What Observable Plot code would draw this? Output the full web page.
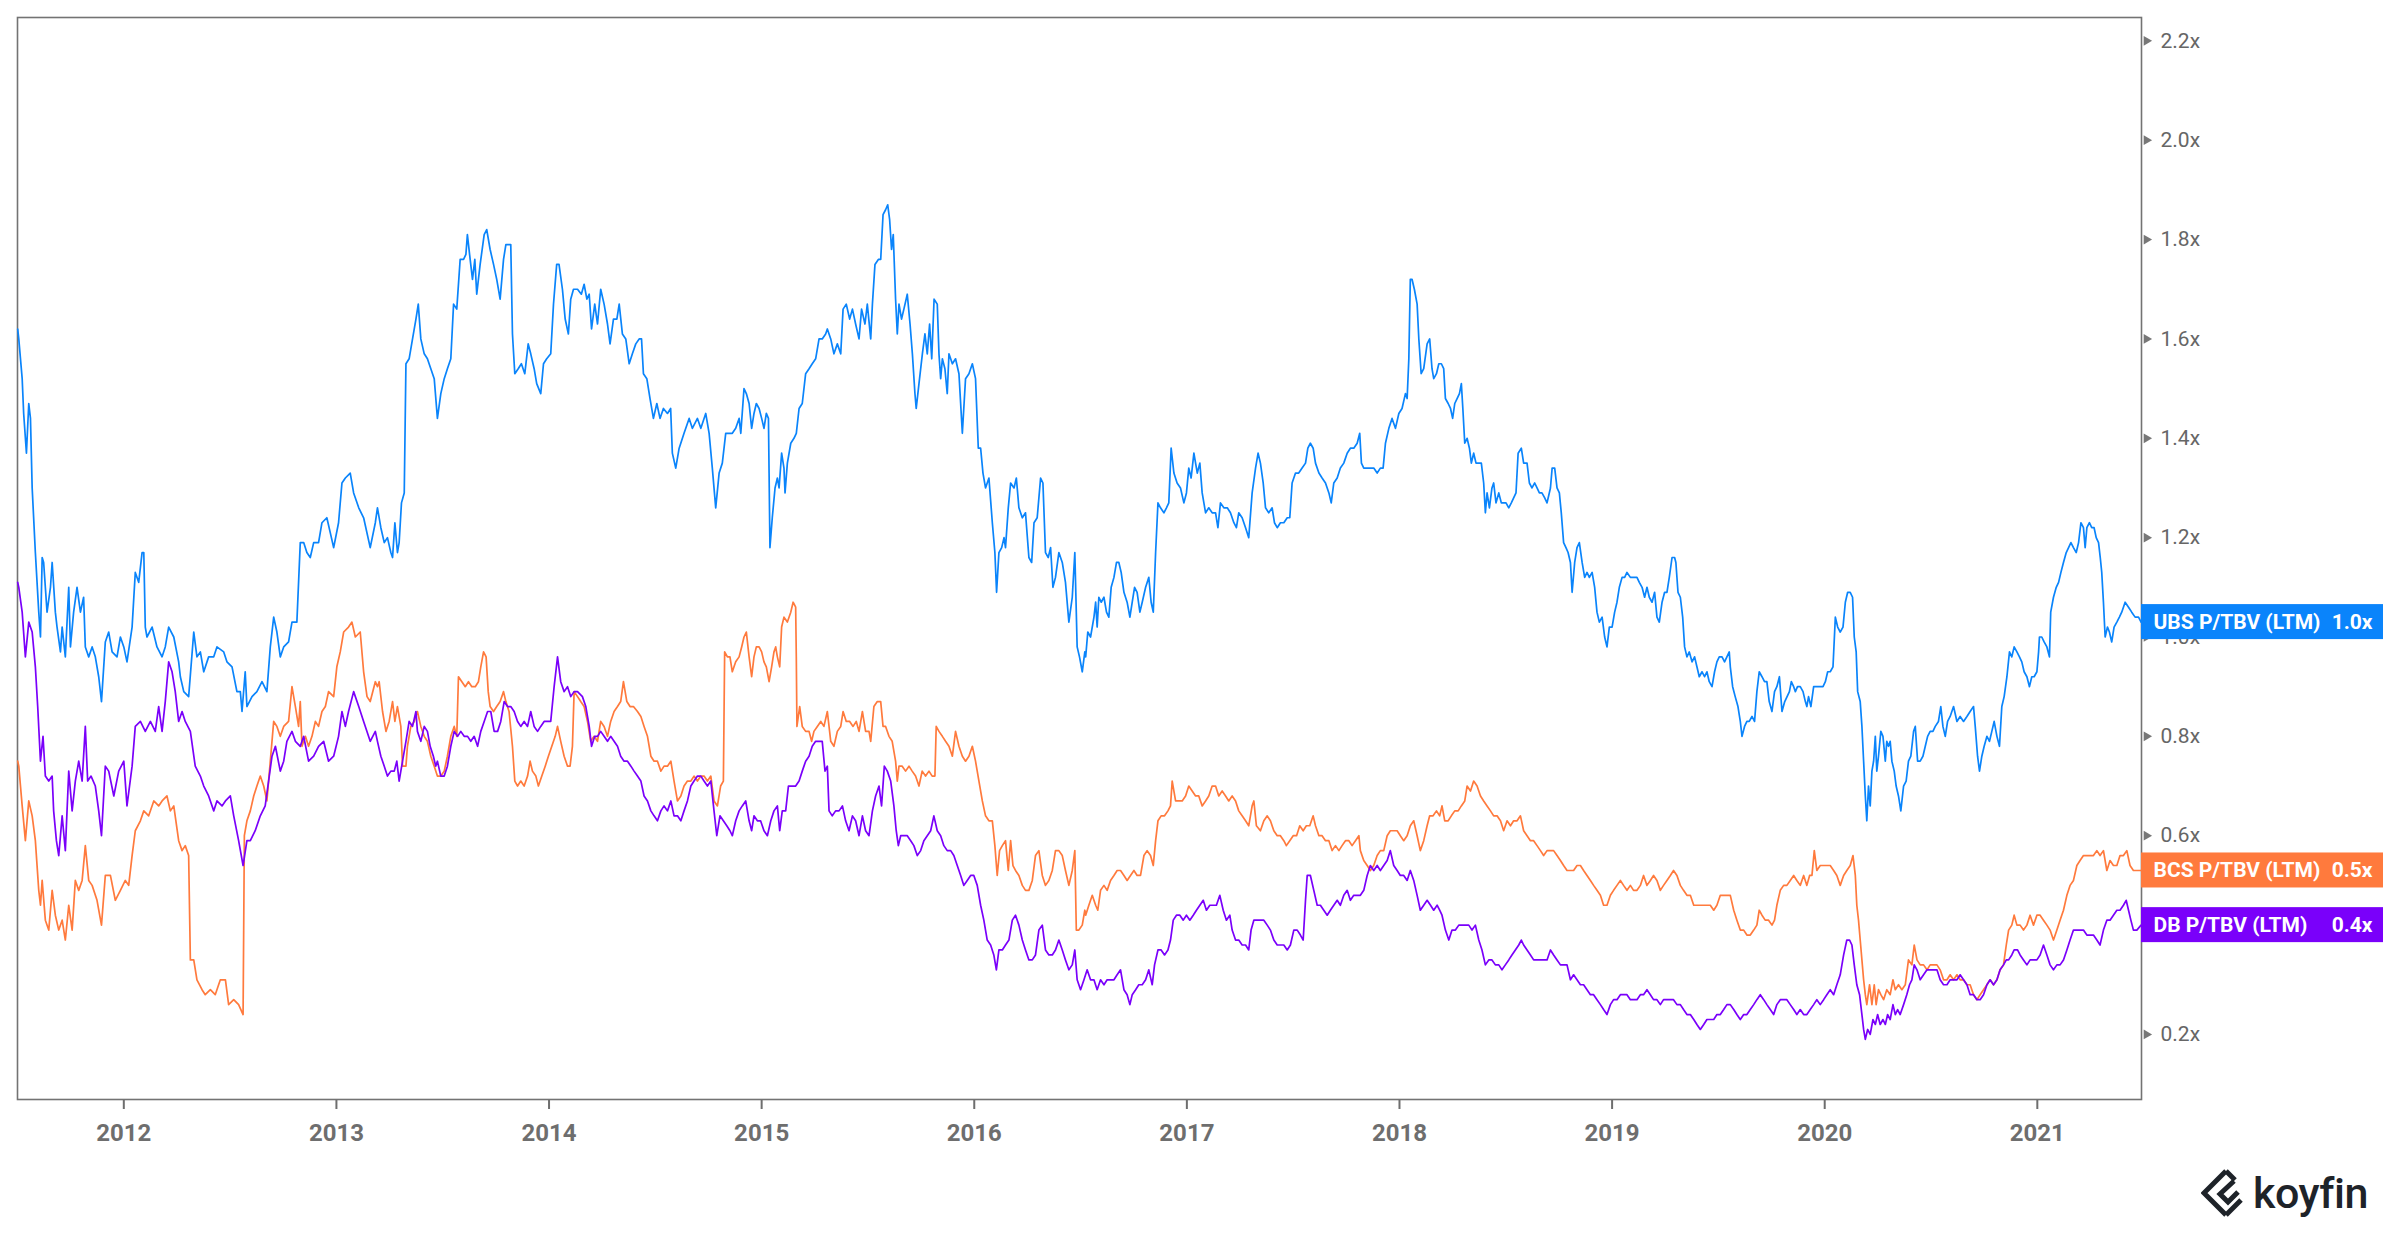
<!DOCTYPE html>
<html>
<head>
<meta charset="utf-8">
<script src="https://cdn.jsdelivr.net/npm/d3@7"></script>
<script src="https://cdn.jsdelivr.net/npm/@observablehq/plot@0.6"></script>
<style>
  html, body { margin: 0; padding: 0; background: #ffffff; }
  #wrap { position: relative; width: 2400px; height: 1240px; background: #ffffff; overflow: hidden; }
  #logo { position: absolute; left: 2201px; top: 1168px; display: flex; align-items: center; gap: 8px; }
  #logo span { font-family: Roboto, "Noto Sans", sans-serif; font-weight: 500; font-size: 43px; color: #1e2329; letter-spacing: -0.5px; }
</style>
</head>
<body>
<div id="wrap"></div>
<script>
// ---- data (decimal year, P/TBV multiple) ----
const years = [2012, 2013, 2014, 2015, 2016, 2017, 2018, 2019, 2020, 2021];
const yTicks = [0.2, 0.4, 0.6, 0.8, 1.0, 1.2, 1.4, 1.6, 1.8, 2.0, 2.2];
const seriesNames = ["UBS P/TBV (LTM)", "BCS P/TBV (LTM)", "DB P/TBV (LTM)"];
const seriesColors = ["#0a84fb", "#ff7a3d", "#7a00fa"];

const ubs = [
[2011.501,1.62],[2011.506,1.60],[2011.522,1.52],[2011.529,1.45],[2011.542,1.37],[2011.553,1.47],[2011.561,1.44],[2011.569,1.30],[2011.584,1.17],[2011.600,1.05],[2011.608,1.00],[2011.616,1.16],[2011.623,1.15],[2011.639,1.05],[2011.655,1.10],[2011.663,1.15],[2011.678,1.05],[2011.686,1.02],[2011.702,0.97],[2011.710,1.02],[2011.725,0.96],[2011.741,1.10],[2011.749,0.98],[2011.764,1.05],[2011.780,1.10],[2011.796,1.05],[2011.811,1.08],[2011.819,0.98],[2011.835,0.96],[2011.851,0.98],[2011.866,0.96],[2011.882,0.92],[2011.895,0.87],[2011.913,0.99],[2011.929,1.01],[2011.945,0.97],[2011.968,0.96],[2011.984,1.00],[2012.000,0.98],[2012.015,0.95],[2012.039,1.02],[2012.054,1.13],[2012.070,1.11],[2012.086,1.17],[2012.094,1.17],[2012.101,1.02],[2012.109,1.00],[2012.133,1.02],[2012.156,0.98],[2012.180,0.96],[2012.195,0.98],[2012.211,1.02],[2012.235,1.00],[2012.258,0.95],[2012.266,0.92],[2012.282,0.89],[2012.305,0.88],[2012.329,1.01],[2012.344,0.96],[2012.360,0.97],[2012.376,0.93],[2012.399,0.96],[2012.423,0.96],[2012.438,0.98],[2012.470,0.97],[2012.485,0.95],[2012.509,0.94],[2012.532,0.89],[2012.548,0.89],[2012.556,0.85],[2012.571,0.93],[2012.579,0.86],[2012.603,0.88],[2012.626,0.89],[2012.650,0.91],[2012.673,0.89],[2012.689,0.98],[2012.705,1.04],[2012.720,1.01],[2012.736,0.96],[2012.752,0.98],[2012.775,0.99],[2012.791,1.03],[2012.814,1.03],[2012.830,1.19],[2012.846,1.19],[2012.861,1.17],[2012.877,1.16],[2012.893,1.19],[2012.916,1.19],[2012.932,1.23],[2012.955,1.24],[2012.971,1.21],[2012.987,1.18],[2013.010,1.23],[2013.026,1.31],[2013.042,1.32],[2013.065,1.33],[2013.081,1.29],[2013.105,1.26],[2013.128,1.24],[2013.159,1.18],[2013.183,1.23],
[2013.193,1.26],[2013.209,1.22],[2013.225,1.19],[2013.240,1.20],[2013.256,1.17],[2013.264,1.16],[2013.275,1.23],[2013.287,1.17],[2013.295,1.19],[2013.306,1.27],[2013.319,1.29],[2013.327,1.55],[2013.342,1.56],[2013.358,1.60],[2013.374,1.64],[2013.385,1.67],[2013.397,1.60],[2013.413,1.57],[2013.428,1.56],[2013.444,1.54],[2013.460,1.52],[2013.475,1.44],[2013.491,1.49],[2013.507,1.52],[2013.522,1.54],[2013.538,1.56],[2013.551,1.67],[2013.566,1.66],[2013.582,1.76],[2013.598,1.76],[2013.609,1.77],[2013.616,1.81],[2013.629,1.76],[2013.640,1.72],[2013.651,1.76],[2013.660,1.69],[2013.676,1.75],[2013.695,1.81],[2013.707,1.82],[2013.723,1.78],[2013.739,1.75],[2013.754,1.72],[2013.770,1.68],[2013.786,1.76],[2013.797,1.79],[2013.808,1.79],[2013.820,1.79],[2013.828,1.61],[2013.839,1.53],[2013.855,1.54],[2013.870,1.55],[2013.886,1.53],[2013.902,1.59],[2013.914,1.57],[2013.930,1.54],[2013.942,1.51],[2013.961,1.49],[2013.974,1.55],[2013.989,1.56],[2014.008,1.57],[2014.021,1.67],[2014.036,1.75],[2014.047,1.75],[2014.063,1.70],[2014.076,1.64],[2014.091,1.61],[2014.102,1.68],[2014.115,1.70],[2014.134,1.70],[2014.152,1.69],[2014.165,1.71],[2014.178,1.68],[2014.189,1.69],[2014.200,1.62],[2014.215,1.67],[2014.228,1.63],[2014.243,1.70],[2014.259,1.67],[2014.275,1.63],[2014.287,1.59],[2014.303,1.64],[2014.319,1.64],[2014.330,1.67],[2014.345,1.61],[2014.361,1.60],[2014.377,1.55],[2014.392,1.57],[2014.408,1.59],[2014.424,1.60],[2014.435,1.60],[2014.444,1.53],[2014.460,1.52],[2014.475,1.48],[2014.491,1.44],[2014.507,1.47],[2014.522,1.44],[2014.538,1.46],[2014.557,1.45],[2014.572,1.46],[2014.580,1.37],[2014.596,1.34],[2014.612,1.38],[2014.635,1.41],[2014.659,1.44],[2014.674,1.42],[2014.698,1.44],[2014.714,1.42],[2014.737,1.45],[2014.753,1.41],[2014.768,1.34],[2014.784,1.26],[2014.800,1.33],[2014.815,1.35],[2014.831,1.41],[2014.851,1.41],
[2014.862,1.41],[2014.878,1.42],[2014.894,1.44],[2014.902,1.41],[2014.917,1.50],[2014.928,1.49],[2014.941,1.47],[2014.953,1.42],[2014.964,1.45],[2014.975,1.47],[2014.988,1.46],[2015.000,1.44],[2015.011,1.42],[2015.022,1.45],[2015.032,1.44],[2015.035,1.33],[2015.039,1.18],[2015.050,1.24],[2015.063,1.30],[2015.074,1.32],[2015.082,1.30],[2015.094,1.37],[2015.105,1.34],[2015.110,1.29],[2015.121,1.35],[2015.137,1.39],[2015.152,1.40],[2015.163,1.41],[2015.176,1.46],[2015.191,1.47],[2015.207,1.53],[2015.223,1.54],[2015.238,1.55],[2015.254,1.56],[2015.270,1.60],[2015.285,1.60],[2015.301,1.61],[2015.309,1.62],[2015.325,1.60],[2015.340,1.57],[2015.356,1.59],[2015.372,1.57],[2015.383,1.66],[2015.398,1.67],[2015.414,1.64],[2015.427,1.66],[2015.442,1.63],[2015.458,1.60],[2015.470,1.66],[2015.486,1.63],[2015.497,1.67],[2015.513,1.60],[2015.521,1.67],[2015.533,1.75],[2015.549,1.76],[2015.560,1.76],[2015.571,1.85],[2015.583,1.86],[2015.593,1.87],[2015.602,1.84],[2015.611,1.78],[2015.619,1.81],[2015.630,1.68],[2015.638,1.61],[2015.646,1.67],[2015.658,1.64],[2015.669,1.66],[2015.685,1.69],[2015.698,1.63],[2015.709,1.57],[2015.721,1.49],[2015.727,1.46],[2015.740,1.51],[2015.756,1.57],[2015.768,1.61],[2015.779,1.57],[2015.790,1.63],[2015.800,1.56],[2015.811,1.68],[2015.826,1.67],[2015.834,1.57],[2015.842,1.52],[2015.850,1.56],[2015.862,1.54],[2015.873,1.49],[2015.881,1.57],[2015.897,1.55],[2015.912,1.56],[2015.928,1.53],[2015.944,1.41],[2015.959,1.52],[2015.975,1.53],[2015.991,1.55],[2016.006,1.52],[2016.019,1.38],[2016.030,1.38],[2016.041,1.33],[2016.053,1.30],[2016.069,1.32],[2016.085,1.23],[2016.097,1.17],[2016.105,1.09],[2016.116,1.17],[2016.129,1.18],[2016.140,1.20],[2016.147,1.18],[2016.160,1.26],[2016.171,1.31],[2016.187,1.30],[2016.198,1.32],[2016.210,1.26],[2016.226,1.24],[2016.241,1.25],[2016.257,1.16],[2016.270,1.15],[2016.281,1.23],[2016.296,1.24],[2016.312,1.32],[2016.323,1.31],[2016.335,1.17],[2016.348,1.16],[2016.359,1.18],[2016.370,1.10],[2016.382,1.12],[2016.398,1.17],[2016.414,1.15],[2016.429,1.11],[2016.445,1.03],[2016.461,1.08],[2016.473,1.17],[2016.484,0.98],[2016.495,0.96],[2016.508,0.93],[2016.520,0.97],
[2016.524,0.96],[2016.534,1.01],[2016.547,1.00],[2016.563,1.04],[2016.571,1.07],[2016.578,1.02],[2016.586,1.08],[2016.597,1.07],[2016.610,1.08],[2016.622,1.05],[2016.633,1.04],[2016.644,1.10],[2016.657,1.12],[2016.669,1.15],[2016.680,1.15],[2016.691,1.13],[2016.704,1.09],[2016.719,1.07],[2016.732,1.04],[2016.743,1.07],[2016.754,1.10],[2016.766,1.09],[2016.779,1.05],[2016.790,1.07],[2016.806,1.10],[2016.821,1.12],[2016.832,1.07],[2016.842,1.05],[2016.853,1.17],[2016.864,1.27],[2016.876,1.26],[2016.892,1.25],[2016.904,1.26],[2016.915,1.27],[2016.926,1.38],[2016.939,1.33],[2016.954,1.31],[2016.970,1.30],[2016.986,1.27],[2016.998,1.29],[2017.009,1.34],[2017.020,1.32],[2017.033,1.37],[2017.049,1.33],[2017.061,1.35],[2017.072,1.29],[2017.088,1.25],[2017.103,1.26],[2017.119,1.25],[2017.135,1.25],[2017.146,1.22],[2017.158,1.27],[2017.174,1.26],[2017.190,1.26],[2017.205,1.25],[2017.221,1.23],[2017.233,1.22],[2017.244,1.25],[2017.260,1.24],[2017.276,1.22],[2017.291,1.20],[2017.307,1.29],[2017.323,1.34],[2017.335,1.37],[2017.346,1.35],[2017.359,1.31],[2017.370,1.26],[2017.385,1.25],[2017.401,1.26],[2017.412,1.23],[2017.425,1.22],[2017.440,1.23],[2017.456,1.23],[2017.472,1.24],[2017.484,1.24],[2017.495,1.31],[2017.511,1.33],[2017.526,1.33],[2017.542,1.34],[2017.558,1.35],[2017.569,1.38],[2017.581,1.39],[2017.594,1.38],[2017.605,1.35],[2017.621,1.33],[2017.636,1.32],[2017.652,1.31],[2017.668,1.29],[2017.679,1.27],[2017.691,1.31],[2017.707,1.32],[2017.722,1.34],[2017.738,1.35],[2017.754,1.37],[2017.769,1.38],[2017.785,1.38],[2017.801,1.39],[2017.813,1.41],[2017.821,1.35],[2017.832,1.34],[2017.848,1.34],[2017.863,1.34],[2017.879,1.34],[2017.895,1.33],[2017.910,1.34],[2017.923,1.34],[2017.934,1.39],[2017.950,1.42],[2017.965,1.44],[2017.981,1.42],[2017.997,1.45],[2018.012,1.46],[2018.028,1.49],[2018.036,1.48],[2018.044,1.56],[2018.051,1.72],[2018.059,1.72],[2018.070,1.70],[2018.083,1.67],[2018.091,1.60],[2018.102,1.53],[2018.114,1.54],[2018.130,1.59],[2018.142,1.60],[2018.153,1.54],[2018.161,1.52],[2018.174,1.53],[2018.185,1.55],
[2018.197,1.55],[2018.208,1.54],[2018.216,1.48],[2018.229,1.47],[2018.240,1.46],[2018.250,1.44],[2018.260,1.47],[2018.271,1.48],[2018.282,1.49],[2018.291,1.51],[2018.298,1.46],[2018.307,1.39],[2018.318,1.40],[2018.329,1.38],[2018.338,1.35],[2018.349,1.37],[2018.360,1.35],[2018.373,1.35],[2018.385,1.35],[2018.396,1.31],[2018.404,1.25],[2018.412,1.29],[2018.423,1.26],[2018.435,1.30],[2018.443,1.31],[2018.454,1.27],[2018.467,1.29],[2018.479,1.27],[2018.490,1.27],[2018.501,1.27],[2018.514,1.26],[2018.526,1.27],[2018.537,1.28],[2018.548,1.29],[2018.558,1.37],[2018.573,1.38],[2018.584,1.35],[2018.600,1.35],[2018.611,1.31],[2018.623,1.30],[2018.636,1.31],[2018.647,1.30],[2018.658,1.29],[2018.670,1.29],[2018.683,1.28],[2018.694,1.27],[2018.710,1.30],[2018.718,1.34],[2018.730,1.34],[2018.741,1.30],[2018.752,1.29],[2018.761,1.25],[2018.772,1.19],[2018.783,1.18],[2018.793,1.17],[2018.804,1.15],[2018.812,1.09],[2018.824,1.15],[2018.835,1.18],[2018.846,1.19],[2018.859,1.15],[2018.871,1.12],[2018.882,1.13],[2018.893,1.12],[2018.906,1.13],[2018.918,1.10],[2018.929,1.05],[2018.940,1.03],[2018.953,1.04],[2018.965,1.00],[2018.976,0.98],[2018.987,1.02],[2019.000,1.02],[2019.012,1.05],[2019.023,1.07],[2019.034,1.10],[2019.047,1.12],[2019.059,1.12],[2019.070,1.13],[2019.086,1.12],[2019.101,1.12],[2019.117,1.12],[2019.128,1.11],[2019.141,1.10],[2019.153,1.08],[2019.164,1.10],[2019.175,1.08],[2019.188,1.07],[2019.200,1.09],[2019.211,1.04],[2019.222,1.03],[2019.235,1.07],[2019.247,1.09],[2019.258,1.09],[2019.269,1.12],[2019.282,1.16],[2019.294,1.16],[2019.300,1.15],[2019.310,1.09],[2019.321,1.08],[2019.332,1.04],[2019.341,0.98],[2019.352,0.96],[2019.363,0.97],[2019.376,0.95],[2019.388,0.96],[2019.399,0.94],[2019.410,0.92],[2019.423,0.93],[2019.435,0.92],[2019.446,0.93],[2019.457,0.91],[2019.470,0.90],[2019.482,0.93],[2019.493,0.95],[2019.504,0.96],[2019.517,0.96],[2019.529,0.95],[2019.540,0.96],[2019.551,0.97],[2019.556,0.94],[2019.567,0.90],[2019.579,0.88],[2019.592,0.86],[2019.603,0.83],[2019.611,0.80],[2019.623,0.82],[2019.634,0.83],[2019.645,0.83],[2019.658,0.84],[2019.670,0.83],[2019.681,0.89],[2019.692,0.93],[2019.705,0.92],[2019.717,0.91],[2019.728,0.91],[2019.739,0.87],[2019.752,0.85],[2019.764,0.89],[2019.775,0.90],[2019.787,0.92],[2019.799,0.85],[2019.812,0.87],[2019.823,0.88],[2019.834,0.89],[2019.843,0.91],[2019.854,0.90],
[2019.862,0.89],[2019.872,0.90],[2019.885,0.90],[2019.898,0.89],[2019.909,0.87],[2019.916,0.86],[2019.924,0.88],[2019.935,0.86],[2019.948,0.90],[2019.960,0.90],[2019.976,0.90],[2019.992,0.90],[2020.003,0.91],[2020.014,0.93],[2020.026,0.93],[2020.039,0.94],[2020.050,1.04],[2020.061,1.02],[2020.073,1.01],[2020.086,1.02],[2020.097,1.07],[2020.108,1.09],[2020.120,1.09],[2020.131,1.08],[2020.139,1.00],[2020.148,0.97],[2020.155,0.89],[2020.167,0.87],[2020.175,0.82],[2020.183,0.75],[2020.191,0.68],[2020.198,0.63],[2020.206,0.70],[2020.214,0.66],[2020.222,0.73],[2020.230,0.75],[2020.238,0.80],[2020.245,0.73],[2020.253,0.76],[2020.264,0.81],[2020.274,0.80],[2020.285,0.75],[2020.292,0.79],[2020.300,0.78],[2020.308,0.79],[2020.316,0.75],[2020.327,0.73],[2020.336,0.70],[2020.347,0.68],[2020.358,0.65],[2020.371,0.70],[2020.383,0.71],[2020.394,0.75],[2020.405,0.76],[2020.418,0.81],[2020.426,0.82],[2020.437,0.75],[2020.449,0.75],[2020.462,0.76],[2020.473,0.78],[2020.484,0.80],[2020.496,0.81],[2020.509,0.81],[2020.520,0.82],[2020.535,0.83],[2020.546,0.86],[2020.556,0.82],[2020.567,0.80],[2020.578,0.83],[2020.590,0.84],[2020.606,0.86],[2020.622,0.83],[2020.637,0.84],[2020.653,0.83],[2020.669,0.84],[2020.684,0.85],[2020.700,0.86],[2020.708,0.82],[2020.719,0.76],[2020.728,0.73],[2020.739,0.76],[2020.750,0.78],[2020.763,0.80],[2020.775,0.79],[2020.786,0.81],[2020.797,0.83],[2020.810,0.80],[2020.822,0.78],[2020.833,0.86],[2020.844,0.88],[2020.857,0.92],[2020.869,0.97],[2020.880,0.96],[2020.891,0.98],[2020.904,0.97],[2020.916,0.96],[2020.927,0.95],[2020.938,0.93],[2020.951,0.92],[2020.963,0.90],[2020.974,0.92],[2020.985,0.92],[2020.998,0.93],[2021.006,0.97],[2021.010,1.00],[2021.021,1.00],[2021.032,0.99],[2021.045,0.98],[2021.057,0.96],[2021.063,1.05],[2021.076,1.08],[2021.089,1.10],[2021.100,1.11],[2021.111,1.13],[2021.123,1.15],[2021.136,1.17],[2021.147,1.18],[2021.158,1.19],[2021.170,1.18],[2021.183,1.17],[2021.194,1.19],[2021.205,1.23],[2021.217,1.22],[2021.225,1.18],[2021.233,1.22],[2021.245,1.23],[2021.256,1.22],[2021.267,1.22],[2021.277,1.20],[2021.288,1.19],[2021.296,1.16],[2021.303,1.13],[2021.311,1.07],[2021.319,1.00],[2021.330,1.02],[2021.339,1.01],[2021.350,0.99],[2021.361,1.02],[2021.374,1.03],[2021.386,1.04],[2021.397,1.05],[2021.413,1.07],[2021.429,1.06],[2021.444,1.05],[2021.460,1.04],[2021.476,1.04],[2021.488,1.03]
];

const bcs = [
[2011.501,0.75],[2011.506,0.74],[2011.522,0.66],[2011.537,0.59],[2011.553,0.67],[2011.569,0.64],[2011.584,0.59],[2011.600,0.49],[2011.608,0.46],[2011.616,0.51],[2011.631,0.43],[2011.647,0.41],[2011.663,0.49],[2011.678,0.44],[2011.694,0.41],[2011.710,0.43],[2011.725,0.39],[2011.741,0.46],[2011.757,0.41],[2011.772,0.51],[2011.788,0.49],[2011.804,0.51],[2011.819,0.58],[2011.835,0.51],[2011.851,0.50],[2011.874,0.47],[2011.895,0.42],[2011.913,0.52],[2011.937,0.52],[2011.960,0.47],[2011.984,0.49],[2012.007,0.51],[2012.023,0.50],[2012.039,0.56],[2012.054,0.61],[2012.078,0.63],[2012.094,0.65],[2012.117,0.64],[2012.141,0.67],[2012.164,0.66],[2012.180,0.67],[2012.203,0.68],[2012.219,0.65],[2012.235,0.66],[2012.258,0.59],[2012.274,0.57],[2012.289,0.58],[2012.305,0.56],[2012.313,0.35],[2012.329,0.35],[2012.344,0.31],[2012.368,0.29],[2012.383,0.28],[2012.407,0.29],[2012.430,0.28],[2012.454,0.31],[2012.478,0.31],[2012.493,0.26],[2012.517,0.27],[2012.540,0.26],[2012.561,0.24],[2012.567,0.60],[2012.579,0.63],[2012.595,0.65],[2012.611,0.68],[2012.626,0.70],[2012.642,0.72],[2012.658,0.70],[2012.673,0.67],[2012.689,0.75],[2012.705,0.83],[2012.720,0.82],[2012.736,0.80],[2012.752,0.82],[2012.775,0.83],[2012.791,0.90],[2012.807,0.86],[2012.822,0.82],[2012.830,0.87],[2012.838,0.78],[2012.854,0.80],[2012.869,0.78],[2012.885,0.80],[2012.901,0.83],[2012.916,0.82],[2012.932,0.85],[2012.948,0.86],[2012.963,0.89],[2012.987,0.88],[2013.002,0.94],[2013.018,0.97],[2013.034,1.01],[2013.057,1.02],[2013.073,1.03],[2013.089,1.00],[2013.112,1.01],[2013.128,0.93],[2013.144,0.88],[2013.159,0.87],[2013.183,0.91],
[2013.193,0.90],[2013.201,0.91],[2013.217,0.85],[2013.233,0.81],[2013.248,0.83],[2013.264,0.87],[2013.275,0.83],[2013.287,0.86],[2013.303,0.82],[2013.311,0.74],[2013.327,0.74],[2013.334,0.78],[2013.350,0.82],[2013.366,0.83],[2013.381,0.85],[2013.397,0.82],[2013.413,0.80],[2013.428,0.79],[2013.444,0.76],[2013.460,0.74],[2013.475,0.72],[2013.491,0.72],[2013.507,0.73],[2013.522,0.76],[2013.538,0.80],[2013.554,0.82],[2013.566,0.80],[2013.574,0.92],[2013.590,0.91],[2013.606,0.90],[2013.621,0.91],[2013.637,0.90],[2013.653,0.90],[2013.668,0.91],[2013.679,0.94],[2013.692,0.97],[2013.704,0.96],[2013.714,0.89],[2013.723,0.86],[2013.739,0.85],[2013.754,0.86],[2013.770,0.87],[2013.786,0.89],[2013.797,0.87],[2013.812,0.85],[2013.828,0.78],[2013.839,0.71],[2013.852,0.70],[2013.867,0.71],[2013.883,0.70],[2013.899,0.72],[2013.911,0.75],[2013.922,0.73],[2013.938,0.72],[2013.950,0.70],[2013.966,0.72],[2013.982,0.74],[2013.997,0.76],[2014.013,0.78],[2014.029,0.80],[2014.040,0.82],[2014.055,0.79],[2014.071,0.76],[2014.087,0.74],[2014.099,0.74],[2014.110,0.78],[2014.118,0.89],[2014.134,0.88],[2014.149,0.87],[2014.165,0.86],[2014.181,0.83],[2014.196,0.79],[2014.212,0.80],[2014.228,0.79],[2014.243,0.83],[2014.259,0.82],[2014.275,0.80],[2014.290,0.83],[2014.306,0.85],[2014.322,0.86],[2014.337,0.87],[2014.350,0.91],[2014.366,0.87],[2014.381,0.86],[2014.397,0.86],[2014.416,0.85],[2014.432,0.84],[2014.447,0.82],[2014.463,0.80],[2014.479,0.76],[2014.494,0.75],[2014.510,0.75],[2014.526,0.73],[2014.541,0.74],[2014.557,0.74],[2014.573,0.75],[2014.588,0.71],[2014.604,0.67],[2014.620,0.68],[2014.635,0.70],[2014.651,0.71],[2014.667,0.71],[2014.682,0.72],[2014.698,0.71],[2014.714,0.72],[2014.729,0.72],[2014.745,0.71],[2014.761,0.72],[2014.776,0.67],[2014.792,0.66],[2014.807,0.70],[2014.820,0.71],[2014.826,0.97],[2014.839,0.96],[2014.851,0.96],
[2014.862,0.93],[2014.878,0.95],[2014.894,0.96],[2014.906,0.98],[2014.917,1.00],[2014.928,1.01],[2014.941,0.96],[2014.953,0.92],[2014.964,0.96],[2014.975,0.98],[2014.988,0.98],[2015.000,0.97],[2015.011,0.95],[2015.022,0.94],[2015.035,0.91],[2015.047,0.94],[2015.058,0.97],[2015.066,0.98],[2015.074,0.96],[2015.085,0.94],[2015.094,1.02],[2015.105,1.04],[2015.121,1.03],[2015.137,1.05],[2015.148,1.07],[2015.160,1.06],[2015.163,0.96],[2015.166,0.82],[2015.179,0.86],[2015.191,0.82],[2015.207,0.81],[2015.223,0.81],[2015.235,0.79],[2015.246,0.81],[2015.262,0.82],[2015.278,0.83],[2015.293,0.82],[2015.309,0.85],[2015.325,0.79],[2015.340,0.78],[2015.356,0.81],[2015.372,0.82],[2015.383,0.85],[2015.398,0.83],[2015.414,0.83],[2015.430,0.82],[2015.445,0.83],[2015.458,0.81],[2015.474,0.85],[2015.489,0.81],[2015.505,0.81],[2015.513,0.79],[2015.528,0.86],[2015.544,0.87],[2015.560,0.87],[2015.571,0.82],[2015.583,0.82],[2015.599,0.80],[2015.614,0.79],[2015.630,0.75],[2015.638,0.71],[2015.646,0.74],[2015.661,0.74],[2015.677,0.73],[2015.693,0.74],[2015.708,0.73],[2015.724,0.72],[2015.740,0.70],[2015.755,0.73],[2015.771,0.72],[2015.787,0.73],[2015.802,0.72],[2015.815,0.72],[2015.821,0.82],[2015.834,0.81],[2015.850,0.80],[2015.865,0.79],[2015.881,0.78],[2015.897,0.76],[2015.912,0.81],[2015.928,0.78],[2015.944,0.76],[2015.959,0.75],[2015.975,0.76],[2015.991,0.78],[2016.006,0.75],[2016.022,0.71],[2016.038,0.67],[2016.053,0.64],[2016.069,0.63],[2016.085,0.63],[2016.097,0.58],[2016.108,0.52],[2016.119,0.57],[2016.132,0.58],[2016.147,0.59],[2016.160,0.53],[2016.171,0.59],[2016.182,0.54],[2016.194,0.53],[2016.210,0.52],[2016.226,0.50],[2016.241,0.49],[2016.257,0.49],[2016.273,0.51],[2016.288,0.56],[2016.304,0.57],[2016.320,0.52],[2016.335,0.50],[2016.351,0.51],[2016.367,0.53],[2016.382,0.57],[2016.398,0.57],[2016.414,0.56],[2016.429,0.53],[2016.445,0.50],[2016.461,0.53],[2016.473,0.57],[2016.480,0.41],[2016.492,0.41],[2016.508,0.42],[2016.520,0.45],
[2016.524,0.44],[2016.539,0.46],[2016.555,0.48],[2016.571,0.46],[2016.581,0.45],[2016.594,0.49],[2016.610,0.50],[2016.625,0.49],[2016.641,0.51],[2016.657,0.52],[2016.672,0.53],[2016.688,0.53],[2016.704,0.52],[2016.719,0.51],[2016.735,0.52],[2016.751,0.53],[2016.766,0.52],[2016.782,0.52],[2016.798,0.56],[2016.813,0.57],[2016.829,0.56],[2016.842,0.54],[2016.853,0.59],[2016.864,0.63],[2016.879,0.64],[2016.895,0.64],[2016.911,0.65],[2016.923,0.66],[2016.931,0.71],[2016.947,0.67],[2016.962,0.67],[2016.978,0.67],[2016.994,0.68],[2017.009,0.70],[2017.025,0.69],[2017.041,0.68],[2017.056,0.68],[2017.072,0.66],[2017.088,0.67],[2017.103,0.68],[2017.119,0.70],[2017.135,0.70],[2017.150,0.68],[2017.166,0.69],[2017.182,0.68],[2017.197,0.67],[2017.213,0.68],[2017.229,0.67],[2017.244,0.65],[2017.260,0.64],[2017.276,0.63],[2017.291,0.62],[2017.307,0.66],[2017.315,0.67],[2017.327,0.62],[2017.346,0.61],[2017.362,0.63],[2017.378,0.64],[2017.393,0.63],[2017.409,0.61],[2017.425,0.60],[2017.440,0.60],[2017.456,0.59],[2017.468,0.58],[2017.484,0.59],[2017.500,0.60],[2017.516,0.60],[2017.531,0.62],[2017.547,0.61],[2017.562,0.62],[2017.578,0.62],[2017.594,0.64],[2017.605,0.62],[2017.621,0.60],[2017.636,0.60],[2017.652,0.59],[2017.668,0.59],[2017.683,0.57],[2017.699,0.58],[2017.715,0.57],[2017.730,0.58],[2017.746,0.59],[2017.762,0.59],[2017.777,0.58],[2017.793,0.59],[2017.809,0.60],[2017.816,0.57],[2017.832,0.55],[2017.848,0.54],[2017.863,0.53],[2017.879,0.54],[2017.895,0.56],[2017.910,0.57],[2017.926,0.57],[2017.942,0.60],[2017.957,0.61],[2017.973,0.61],[2017.989,0.61],[2018.004,0.60],[2018.020,0.59],[2018.036,0.60],[2018.051,0.62],[2018.067,0.63],[2018.083,0.60],[2018.098,0.57],[2018.114,0.59],[2018.130,0.62],[2018.142,0.64],[2018.158,0.64],[2018.174,0.65],[2018.189,0.64],
[2018.200,0.66],[2018.213,0.63],[2018.229,0.63],[2018.244,0.64],[2018.260,0.65],[2018.276,0.65],[2018.291,0.66],[2018.307,0.67],[2018.318,0.70],[2018.334,0.69],[2018.349,0.71],[2018.365,0.70],[2018.381,0.68],[2018.396,0.67],[2018.412,0.66],[2018.428,0.65],[2018.443,0.64],[2018.459,0.64],[2018.475,0.63],[2018.490,0.61],[2018.506,0.63],[2018.522,0.62],[2018.537,0.63],[2018.553,0.63],[2018.569,0.64],[2018.584,0.61],[2018.600,0.60],[2018.616,0.59],[2018.631,0.59],[2018.647,0.58],[2018.663,0.57],[2018.678,0.56],[2018.694,0.57],[2018.710,0.57],[2018.725,0.57],[2018.741,0.56],[2018.757,0.55],[2018.772,0.54],[2018.788,0.53],[2018.804,0.53],[2018.819,0.53],[2018.835,0.54],[2018.851,0.54],[2018.866,0.53],[2018.882,0.52],[2018.898,0.51],[2018.913,0.50],[2018.929,0.49],[2018.945,0.48],[2018.960,0.46],[2018.976,0.46],[2018.992,0.48],[2019.007,0.49],[2019.023,0.50],[2019.039,0.51],[2019.054,0.50],[2019.070,0.49],[2019.086,0.50],[2019.101,0.49],[2019.117,0.49],[2019.133,0.50],[2019.148,0.52],[2019.164,0.50],[2019.180,0.51],[2019.195,0.52],[2019.211,0.51],[2019.227,0.49],[2019.242,0.50],[2019.258,0.51],[2019.274,0.52],[2019.289,0.53],[2019.305,0.52],[2019.321,0.50],[2019.336,0.49],[2019.352,0.48],[2019.368,0.48],[2019.384,0.46],[2019.399,0.46],[2019.415,0.46],[2019.431,0.46],[2019.446,0.46],[2019.462,0.46],[2019.478,0.45],[2019.493,0.46],[2019.509,0.48],[2019.525,0.48],[2019.540,0.48],[2019.556,0.48],[2019.572,0.45],[2019.587,0.43],[2019.603,0.41],[2019.619,0.41],[2019.634,0.40],[2019.650,0.40],[2019.666,0.41],[2019.681,0.42],[2019.692,0.45],[2019.705,0.44],[2019.720,0.43],[2019.736,0.43],[2019.752,0.42],[2019.764,0.43],[2019.775,0.46],[2019.791,0.49],[2019.807,0.50],[2019.822,0.50],[2019.838,0.51],[2019.854,0.52],
[2019.869,0.51],[2019.885,0.50],[2019.901,0.52],[2019.916,0.50],[2019.929,0.52],[2019.940,0.52],[2019.951,0.57],[2019.963,0.53],[2019.979,0.54],[2019.995,0.54],[2020.010,0.54],[2020.026,0.54],[2020.042,0.53],[2020.057,0.52],[2020.073,0.50],[2020.089,0.52],[2020.104,0.53],[2020.120,0.54],[2020.133,0.56],[2020.144,0.52],[2020.151,0.46],[2020.159,0.43],[2020.167,0.39],[2020.175,0.35],[2020.183,0.31],[2020.191,0.28],[2020.198,0.26],[2020.211,0.30],[2020.222,0.26],[2020.233,0.30],[2020.242,0.26],[2020.253,0.29],[2020.264,0.28],[2020.277,0.27],[2020.292,0.29],[2020.308,0.28],[2020.321,0.31],[2020.332,0.29],[2020.347,0.30],[2020.363,0.29],[2020.379,0.30],[2020.394,0.35],[2020.410,0.34],[2020.421,0.38],[2020.434,0.35],[2020.449,0.34],[2020.465,0.34],[2020.481,0.33],[2020.496,0.34],[2020.512,0.34],[2020.528,0.34],[2020.543,0.33],[2020.559,0.31],[2020.575,0.31],[2020.590,0.32],[2020.606,0.31],[2020.622,0.32],[2020.637,0.31],[2020.653,0.31],[2020.669,0.30],[2020.684,0.30],[2020.700,0.28],[2020.716,0.27],[2020.731,0.28],[2020.747,0.29],[2020.763,0.30],[2020.778,0.31],[2020.794,0.30],[2020.810,0.31],[2020.825,0.33],[2020.841,0.34],[2020.854,0.38],[2020.865,0.41],[2020.880,0.42],[2020.891,0.44],[2020.904,0.42],[2020.919,0.42],[2020.935,0.41],[2020.951,0.42],[2020.966,0.44],[2020.982,0.42],[2020.998,0.44],[2021.013,0.44],[2021.029,0.43],[2021.045,0.42],[2021.060,0.41],[2021.076,0.39],[2021.092,0.41],[2021.107,0.43],[2021.123,0.45],[2021.139,0.48],[2021.154,0.50],[2021.170,0.51],[2021.186,0.54],[2021.201,0.55],[2021.217,0.56],[2021.233,0.56],[2021.248,0.56],[2021.264,0.56],[2021.280,0.57],[2021.295,0.56],[2021.311,0.57],[2021.327,0.53],[2021.342,0.55],[2021.358,0.54],[2021.374,0.54],[2021.389,0.56],[2021.405,0.56],[2021.421,0.57],[2021.436,0.54],[2021.452,0.53],[2021.468,0.53],[2021.488,0.53]
];

const db = [
[2011.501,1.11],[2011.506,1.10],[2011.522,1.05],[2011.537,0.96],[2011.553,1.03],[2011.569,1.01],[2011.584,0.94],[2011.595,0.86],[2011.608,0.75],[2011.620,0.80],[2011.631,0.72],[2011.647,0.71],[2011.663,0.72],[2011.670,0.65],[2011.683,0.59],[2011.694,0.56],[2011.710,0.64],[2011.725,0.57],[2011.741,0.73],[2011.757,0.65],[2011.772,0.71],[2011.788,0.75],[2011.804,0.71],[2011.819,0.82],[2011.830,0.71],[2011.846,0.72],[2011.866,0.70],[2011.882,0.65],[2011.895,0.60],[2011.913,0.74],[2011.929,0.73],[2011.953,0.68],[2011.976,0.73],[2012.000,0.75],[2012.015,0.66],[2012.039,0.74],[2012.054,0.82],[2012.078,0.83],[2012.101,0.81],[2012.125,0.83],[2012.148,0.81],[2012.164,0.86],[2012.180,0.81],[2012.195,0.87],[2012.211,0.95],[2012.227,0.93],[2012.242,0.89],[2012.258,0.83],[2012.274,0.85],[2012.289,0.83],[2012.313,0.81],[2012.336,0.74],[2012.360,0.72],[2012.376,0.70],[2012.399,0.68],[2012.423,0.65],[2012.438,0.67],[2012.462,0.66],[2012.478,0.67],[2012.501,0.68],[2012.517,0.64],[2012.540,0.59],[2012.561,0.54],[2012.579,0.59],[2012.595,0.59],[2012.618,0.61],[2012.642,0.64],[2012.665,0.66],[2012.681,0.71],[2012.697,0.76],[2012.713,0.78],[2012.736,0.73],[2012.752,0.75],[2012.767,0.79],[2012.791,0.81],[2012.807,0.79],[2012.830,0.78],[2012.846,0.80],[2012.869,0.75],[2012.893,0.76],[2012.916,0.78],[2012.940,0.79],[2012.963,0.75],[2012.987,0.76],[2013.010,0.80],[2013.026,0.85],[2013.042,0.82],[2013.057,0.85],[2013.081,0.89],[2013.105,0.86],[2013.128,0.83],[2013.159,0.79],[2013.183,0.81],
[2013.193,0.79],[2013.209,0.76],[2013.225,0.74],[2013.240,0.72],[2013.256,0.73],[2013.272,0.73],[2013.284,0.75],[2013.295,0.71],[2013.311,0.75],[2013.327,0.79],[2013.342,0.83],[2013.358,0.82],[2013.374,0.85],[2013.381,0.81],[2013.397,0.79],[2013.413,0.82],[2013.428,0.81],[2013.441,0.78],[2013.456,0.76],[2013.467,0.74],[2013.475,0.75],[2013.491,0.72],[2013.507,0.72],[2013.522,0.74],[2013.538,0.78],[2013.554,0.81],[2013.570,0.80],[2013.585,0.81],[2013.601,0.80],[2013.617,0.80],[2013.632,0.79],[2013.648,0.80],[2013.664,0.78],[2013.679,0.81],[2013.695,0.83],[2013.711,0.85],[2013.726,0.85],[2013.742,0.81],[2013.758,0.81],[2013.773,0.83],[2013.789,0.87],[2013.805,0.86],[2013.820,0.86],[2013.836,0.85],[2013.852,0.83],[2013.867,0.82],[2013.883,0.83],[2013.899,0.82],[2013.914,0.85],[2013.930,0.82],[2013.946,0.81],[2013.961,0.82],[2013.977,0.83],[2013.993,0.83],[2014.008,0.83],[2014.024,0.90],[2014.040,0.96],[2014.055,0.91],[2014.071,0.89],[2014.087,0.90],[2014.102,0.88],[2014.118,0.89],[2014.134,0.89],[2014.157,0.88],[2014.173,0.86],[2014.189,0.82],[2014.200,0.78],[2014.215,0.80],[2014.228,0.80],[2014.243,0.81],[2014.259,0.80],[2014.275,0.79],[2014.290,0.80],[2014.306,0.79],[2014.322,0.78],[2014.337,0.76],[2014.353,0.75],[2014.369,0.75],[2014.385,0.74],[2014.400,0.73],[2014.416,0.72],[2014.432,0.71],[2014.447,0.68],[2014.463,0.67],[2014.479,0.65],[2014.494,0.64],[2014.510,0.63],[2014.526,0.65],[2014.541,0.66],[2014.557,0.65],[2014.573,0.67],[2014.588,0.64],[2014.604,0.64],[2014.620,0.63],[2014.635,0.65],[2014.651,0.67],[2014.667,0.70],[2014.682,0.71],[2014.698,0.72],[2014.714,0.72],[2014.729,0.71],[2014.745,0.70],[2014.761,0.71],[2014.776,0.65],[2014.789,0.60],[2014.804,0.64],[2014.820,0.63],[2014.836,0.62],[2014.851,0.61],
[2014.862,0.60],[2014.878,0.63],[2014.894,0.65],[2014.909,0.66],[2014.925,0.67],[2014.941,0.63],[2014.953,0.61],[2014.964,0.64],[2014.980,0.63],[2014.995,0.63],[2015.011,0.61],[2015.027,0.60],[2015.043,0.63],[2015.058,0.65],[2015.074,0.66],[2015.085,0.61],[2015.097,0.65],[2015.113,0.65],[2015.126,0.70],[2015.144,0.70],[2015.160,0.70],[2015.176,0.71],[2015.191,0.73],[2015.207,0.75],[2015.223,0.76],[2015.238,0.78],[2015.254,0.79],[2015.270,0.79],[2015.285,0.79],[2015.298,0.73],[2015.309,0.74],[2015.317,0.65],[2015.332,0.64],[2015.348,0.65],[2015.364,0.65],[2015.380,0.66],[2015.395,0.63],[2015.411,0.61],[2015.427,0.64],[2015.442,0.63],[2015.458,0.60],[2015.474,0.64],[2015.489,0.61],[2015.505,0.60],[2015.521,0.65],[2015.536,0.68],[2015.552,0.70],[2015.564,0.66],[2015.577,0.74],[2015.591,0.73],[2015.607,0.71],[2015.622,0.66],[2015.633,0.61],[2015.643,0.58],[2015.654,0.60],[2015.669,0.60],[2015.685,0.60],[2015.701,0.59],[2015.716,0.58],[2015.732,0.56],[2015.748,0.57],[2015.763,0.59],[2015.779,0.60],[2015.795,0.61],[2015.810,0.64],[2015.826,0.61],[2015.842,0.60],[2015.857,0.58],[2015.873,0.57],[2015.889,0.57],[2015.904,0.56],[2015.920,0.54],[2015.936,0.52],[2015.951,0.50],[2015.967,0.51],[2015.983,0.52],[2015.998,0.52],[2016.014,0.50],[2016.030,0.46],[2016.045,0.43],[2016.061,0.39],[2016.077,0.38],[2016.092,0.36],[2016.104,0.33],[2016.116,0.37],[2016.132,0.37],[2016.147,0.38],[2016.163,0.39],[2016.179,0.43],[2016.194,0.44],[2016.210,0.42],[2016.226,0.39],[2016.241,0.37],[2016.257,0.35],[2016.273,0.35],[2016.288,0.36],[2016.304,0.41],[2016.320,0.42],[2016.335,0.37],[2016.351,0.36],[2016.367,0.36],[2016.382,0.37],[2016.398,0.39],[2016.414,0.37],[2016.429,0.35],[2016.445,0.33],[2016.461,0.34],[2016.473,0.37],[2016.484,0.31],[2016.500,0.29],[2016.516,0.31],
[2016.531,0.33],[2016.547,0.31],[2016.563,0.31],[2016.578,0.29],[2016.594,0.31],[2016.610,0.30],[2016.625,0.31],[2016.641,0.31],[2016.657,0.31],[2016.672,0.32],[2016.688,0.33],[2016.704,0.29],[2016.719,0.28],[2016.732,0.26],[2016.743,0.28],[2016.759,0.29],[2016.774,0.30],[2016.790,0.30],[2016.806,0.31],[2016.821,0.33],[2016.837,0.30],[2016.848,0.34],[2016.864,0.37],[2016.879,0.37],[2016.895,0.36],[2016.911,0.37],[2016.923,0.39],[2016.936,0.43],[2016.951,0.44],[2016.967,0.44],[2016.983,0.43],[2016.998,0.44],[2017.014,0.43],[2017.030,0.44],[2017.045,0.45],[2017.061,0.46],[2017.077,0.47],[2017.092,0.45],[2017.108,0.46],[2017.124,0.46],[2017.139,0.46],[2017.155,0.48],[2017.171,0.45],[2017.186,0.43],[2017.202,0.44],[2017.213,0.41],[2017.229,0.39],[2017.244,0.39],[2017.260,0.38],[2017.276,0.38],[2017.291,0.37],[2017.302,0.41],[2017.315,0.43],[2017.331,0.43],[2017.346,0.43],[2017.362,0.43],[2017.378,0.42],[2017.393,0.41],[2017.409,0.39],[2017.425,0.38],[2017.440,0.38],[2017.456,0.38],[2017.472,0.37],[2017.487,0.38],[2017.503,0.41],[2017.519,0.41],[2017.534,0.40],[2017.547,0.39],[2017.558,0.47],[2017.566,0.52],[2017.581,0.52],[2017.597,0.49],[2017.613,0.46],[2017.628,0.46],[2017.644,0.45],[2017.660,0.44],[2017.675,0.45],[2017.691,0.46],[2017.707,0.47],[2017.722,0.46],[2017.738,0.48],[2017.754,0.49],[2017.769,0.47],[2017.785,0.48],[2017.801,0.48],[2017.816,0.48],[2017.832,0.49],[2017.848,0.52],[2017.863,0.54],[2017.879,0.53],[2017.895,0.54],[2017.910,0.53],[2017.926,0.54],[2017.942,0.55],[2017.957,0.57],[2017.973,0.54],[2017.989,0.53],[2018.004,0.52],[2018.020,0.52],[2018.036,0.51],[2018.051,0.53],[2018.067,0.51],[2018.083,0.48],[2018.098,0.45],[2018.114,0.46],[2018.130,0.47],[2018.146,0.46],[2018.161,0.45],[2018.177,0.46],[2018.189,0.45],
[2018.200,0.44],[2018.216,0.41],[2018.232,0.39],[2018.247,0.41],[2018.263,0.41],[2018.279,0.42],[2018.294,0.42],[2018.310,0.42],[2018.326,0.42],[2018.341,0.41],[2018.357,0.42],[2018.373,0.39],[2018.388,0.37],[2018.404,0.34],[2018.420,0.35],[2018.435,0.35],[2018.451,0.34],[2018.467,0.34],[2018.482,0.33],[2018.498,0.34],[2018.514,0.35],[2018.529,0.36],[2018.545,0.37],[2018.561,0.38],[2018.573,0.39],[2018.584,0.38],[2018.600,0.37],[2018.616,0.36],[2018.631,0.35],[2018.647,0.35],[2018.663,0.35],[2018.678,0.35],[2018.694,0.35],[2018.710,0.37],[2018.725,0.36],[2018.741,0.35],[2018.757,0.34],[2018.772,0.34],[2018.788,0.34],[2018.804,0.31],[2018.819,0.32],[2018.835,0.31],[2018.851,0.30],[2018.866,0.30],[2018.882,0.29],[2018.898,0.28],[2018.913,0.28],[2018.929,0.27],[2018.945,0.26],[2018.960,0.25],[2018.976,0.24],[2018.992,0.26],[2019.007,0.27],[2019.023,0.27],[2019.039,0.28],[2019.054,0.28],[2019.070,0.28],[2019.086,0.27],[2019.101,0.27],[2019.117,0.27],[2019.133,0.28],[2019.148,0.28],[2019.164,0.29],[2019.180,0.28],[2019.195,0.27],[2019.211,0.27],[2019.227,0.26],[2019.242,0.27],[2019.258,0.27],[2019.274,0.27],[2019.289,0.27],[2019.305,0.26],[2019.321,0.26],[2019.336,0.25],[2019.352,0.24],[2019.368,0.24],[2019.384,0.23],[2019.399,0.22],[2019.415,0.21],[2019.431,0.22],[2019.446,0.23],[2019.462,0.23],[2019.478,0.23],[2019.493,0.24],[2019.509,0.24],[2019.525,0.25],[2019.540,0.26],[2019.556,0.26],[2019.572,0.25],[2019.587,0.24],[2019.603,0.23],[2019.619,0.24],[2019.634,0.24],[2019.650,0.25],[2019.666,0.26],[2019.681,0.27],[2019.697,0.28],[2019.713,0.27],[2019.728,0.26],[2019.744,0.25],[2019.760,0.24],[2019.775,0.26],[2019.791,0.27],[2019.807,0.27],[2019.822,0.27],[2019.838,0.26],[2019.854,0.25],
[2019.869,0.24],[2019.885,0.25],[2019.901,0.24],[2019.916,0.24],[2019.932,0.25],[2019.948,0.26],[2019.963,0.27],[2019.979,0.26],[2019.995,0.27],[2020.010,0.28],[2020.026,0.29],[2020.042,0.28],[2020.057,0.30],[2020.073,0.32],[2020.089,0.36],[2020.104,0.39],[2020.117,0.39],[2020.128,0.38],[2020.139,0.34],[2020.151,0.30],[2020.164,0.28],[2020.175,0.24],[2020.183,0.21],[2020.191,0.19],[2020.202,0.21],[2020.214,0.20],[2020.227,0.23],[2020.238,0.22],[2020.249,0.24],[2020.261,0.22],[2020.274,0.23],[2020.285,0.22],[2020.296,0.24],[2020.308,0.23],[2020.321,0.26],[2020.332,0.24],[2020.343,0.25],[2020.355,0.24],[2020.371,0.26],[2020.386,0.28],[2020.399,0.30],[2020.410,0.31],[2020.421,0.34],[2020.434,0.33],[2020.449,0.31],[2020.465,0.32],[2020.481,0.33],[2020.496,0.33],[2020.512,0.33],[2020.528,0.33],[2020.543,0.31],[2020.559,0.30],[2020.575,0.30],[2020.590,0.31],[2020.606,0.31],[2020.622,0.31],[2020.637,0.32],[2020.653,0.31],[2020.669,0.30],[2020.684,0.28],[2020.700,0.28],[2020.716,0.27],[2020.731,0.27],[2020.747,0.28],[2020.763,0.30],[2020.778,0.31],[2020.794,0.30],[2020.810,0.31],[2020.825,0.33],[2020.841,0.34],[2020.854,0.35],[2020.865,0.35],[2020.880,0.36],[2020.891,0.37],[2020.907,0.37],[2020.919,0.36],[2020.935,0.35],[2020.951,0.34],[2020.966,0.35],[2020.982,0.35],[2020.998,0.35],[2021.013,0.36],[2021.029,0.38],[2021.045,0.36],[2021.060,0.34],[2021.076,0.33],[2021.092,0.34],[2021.107,0.34],[2021.123,0.35],[2021.139,0.37],[2021.154,0.39],[2021.170,0.41],[2021.186,0.41],[2021.201,0.41],[2021.217,0.41],[2021.233,0.40],[2021.248,0.40],[2021.264,0.40],[2021.280,0.39],[2021.295,0.38],[2021.311,0.41],[2021.327,0.43],[2021.342,0.43],[2021.358,0.44],[2021.374,0.45],[2021.389,0.45],[2021.405,0.46],[2021.418,0.47],[2021.429,0.45],[2021.440,0.43],[2021.452,0.41],[2021.468,0.41],[2021.488,0.42]
];

// ---- build ----
const seriesData = [ubs, bcs, db];
const lastPoints = seriesData.map((s, i) => {
  const p = s[s.length - 1];
  return { t: p[0], v: p[1], name: seriesNames[i], color: seriesColors[i] };
});
const grey = "#6e6e6e";
const xDomain = [2011.50, 2021.49];
const yDomain = [0.069, 2.247];

const chart = Plot.plot({
  width: 2400,
  height: 1240,
  marginLeft: 17,
  marginTop: 17,
  marginRight: 259,
  marginBottom: 141,
  style: { fontFamily: "Roboto, 'Noto Sans', sans-serif", background: "#ffffff", overflow: "visible" },
  x: { type: "linear", domain: xDomain },
  y: { type: "linear", domain: yDomain },
  marks: [
    Plot.axisX({
      ticks: years, tickFormat: d => String(d), tickSize: 10, tickPadding: 14,
      stroke: grey, strokeWidth: 2, color: grey, fill: grey,
      fontSize: 24, fontWeight: "bold", label: null
    }),
    Plot.axisY({
      anchor: "right", ticks: yTicks, tickFormat: d => d.toFixed(1) + "x",
      tickSize: 0, tickPadding: 19, fill: "#666666", fontSize: 21, label: null
    }),
    Plot.dot(yTicks, {
      x: () => xDomain[1], y: d => d, symbol: "triangle", rotate: 90, r: 3.6,
      fill: "#777777", stroke: "none", dx: 5
    }),
    Plot.frame({ stroke: "#737373", strokeWidth: 1.6 }),
    Plot.line(ubs, { x: d => d[0], y: d => d[1], stroke: seriesColors[0], strokeWidth: 1.7, curve: "linear" }),
    Plot.line(bcs, { x: d => d[0], y: d => d[1], stroke: seriesColors[1], strokeWidth: 1.7, curve: "linear" }),
    Plot.line(db, { x: d => d[0], y: d => d[1], stroke: seriesColors[2], strokeWidth: 1.7, curve: "linear" }),
    Plot.rect(lastPoints, {
      x1: d => xDomain[1], x2: d => xDomain[1], y1: "v", y2: "v",
      insetLeft: 0, insetRight: -242, insetTop: -17.5, insetBottom: -17.5,
      fill: "color"
    }),
    Plot.text(lastPoints, {
      x: d => xDomain[1], y: "v", text: "name", dx: 12, textAnchor: "start",
      fill: "#ffffff", fontWeight: "bold", fontSize: 21
    }),
    Plot.text(lastPoints, {
      x: d => xDomain[1], y: "v", text: d => d.v.toFixed(1) + "x", dx: 231, textAnchor: "end",
      fill: "#ffffff", fontWeight: "bold", fontSize: 21
    })
  ]
});

const wrap = document.getElementById("wrap");
wrap.appendChild(chart);

const logo = document.createElement("div");
logo.id = "logo";
logo.innerHTML = `<svg width="44" height="50" viewBox="0 0 44 50" fill="none" stroke="#1e2329" stroke-width="5" stroke-linejoin="miter">
  <path d="M25 3 L3 25 L25 47"/>
  <path d="M25 3 L34 12"/>
  <path d="M33 13 L19 26 L27 34 L37 24"/>
  <path d="M25 47 L40 32"/>
</svg><span>koyfin</span>`;
wrap.appendChild(logo);
</script>
</body>
</html>
